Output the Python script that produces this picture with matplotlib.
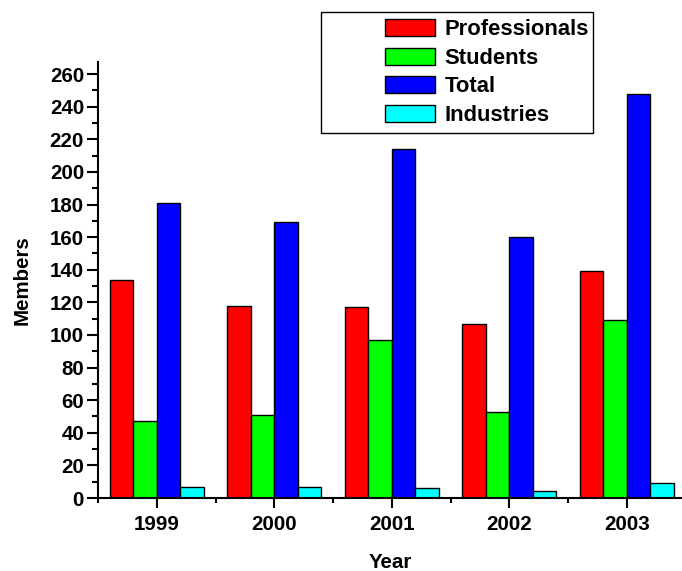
import matplotlib
matplotlib.use('Agg')
import matplotlib.pyplot as plt
from matplotlib.patches import Rectangle, Patch
from matplotlib.ticker import MultipleLocator
import numpy as np

years = [1999, 2000, 2001, 2002, 2003]
series_names = ['Professionals', 'Students', 'Total', 'Industries']
professionals = [134, 118, 117, 107, 139]
students = [47, 51, 97, 53, 109]
total = [181, 169, 214, 160, 248]
industries = [7, 7, 6, 4, 9]
colors = ['#ff0000', '#00ff00', '#0000ff', '#00ffff']

plt.rcParams['font.family'] = ['Liberation Sans', 'DejaVu Sans']
plt.rcParams['font.weight'] = 'bold'

W, H = 682, 571
fig = plt.figure(figsize=(W / 100, H / 100), dpi=100)
ax = fig.add_axes([98 / W, 1 - 498 / H, (682 - 98) / W, (498 - 62) / H])

x = np.array(years)
width = 0.2
all_vals = [professionals, students, total, industries]
for i, vals in enumerate(all_vals):
    ax.bar(x + (i - 1.5) * width, vals, width, color=colors[i],
           edgecolor='black', linewidth=1.0, label=series_names[i])

ax.set_xlim(1998.5, 2003.47)
ax.set_ylim(0, 267.4)
ax.set_xticks(years)
ax.xaxis.set_minor_locator(MultipleLocator(0.5))
ax.yaxis.set_major_locator(MultipleLocator(20))
ax.yaxis.set_minor_locator(MultipleLocator(10))
ax.set_xticklabels([str(y) for y in years])

for s in ['top', 'right']:
    ax.spines[s].set_visible(False)
for s in ['left', 'bottom']:
    ax.spines[s].set_linewidth(1.5)

ax.tick_params(axis='both', which='both', direction='out', width=1.5, labelsize=14.8)
ax.tick_params(axis='y', which='major', length=8, pad=2)
ax.tick_params(axis='y', which='minor', length=4)
ax.tick_params(axis='x', which='major', length=7, pad=5)
ax.tick_params(axis='x', which='minor', length=3.5)
for lab in ax.get_xticklabels() + ax.get_yticklabels():
    lab.set_fontweight('bold')

ax.set_xlabel('Year', fontsize=14.8, fontweight='bold', labelpad=14)
ax.set_ylabel('Members', fontsize=14.8, fontweight='bold', labelpad=13)

# legend box
fig.patches.append(Rectangle((321 / W, 1 - 133 / H), (593 - 321) / W, (133 - 12) / H,
                             transform=fig.transFigure, facecolor='white',
                             edgecolor='black', linewidth=1.0, zorder=5))
handles = [Patch(facecolor=c, edgecolor='black', linewidth=1.0) for c in colors]
leg = fig.legend(handles, series_names, loc='upper left',
                 bbox_to_anchor=(385 / W, 1 - 19 / H), frameon=False,
                 prop={'size': 15.8, 'weight': 'bold'},
                 handlelength=2.3, handleheight=0.84, handletextpad=0.42,
                 labelspacing=0.33, borderpad=0, borderaxespad=0)
leg.set_zorder(6)

fig.savefig('out.png', dpi=100)
